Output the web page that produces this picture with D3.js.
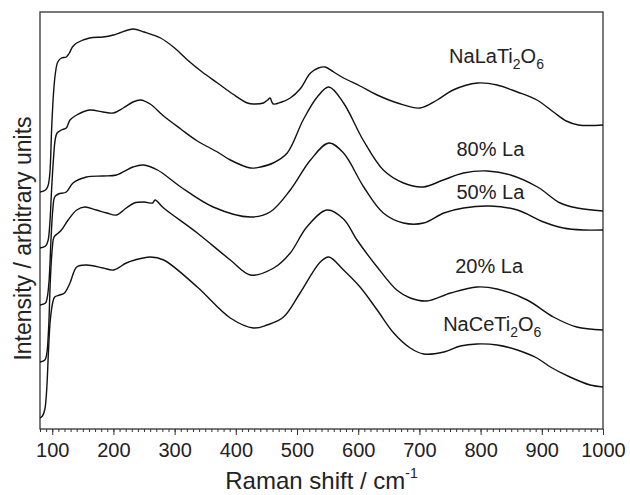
<!DOCTYPE html>
<html>
<head>
<meta charset="utf-8">
<script src="https://cdn.jsdelivr.net/npm/d3@7"></script>
<style>
  body { margin: 0; background: #fff; }
  #chart { width: 630px; height: 495px; }
  text { font-family: "Liberation Sans", Arial, sans-serif; fill: #222; }
</style>
</head>
<body>
<div id="chart"></div>
<script>
// Raman spectra, [shift cm-1, intensity a.u.], stacked top to bottom
const naLaTi2O6 = [[80,237],[89,239],[93,243],[96,255],[99,300],[102,335],[105,355],[109,367],[115,371],[123,372],[128,376],[133,382],[140,386],[161,391],[183,392],[200,394],[210,396],[232,400],[250,397],[277,391],[300,381],[321,369],[345,357],[370,346],[395,335],[419,326],[429,325],[445,326],[452,329],[456,331],[461,325],[475,327],[489,331],[505,340],[522,356],[535,361],[546,362],[560,357],[576,351],[603,343],[631,334],[664,326],[701,321],[729,329],[755,339],[795,346],[827,344],[860,337],[892,329],[919,317],[940,308],[960,304],[1000,304]];
const la80 = [[80,181],[89,183],[93,188],[96,205],[99,240],[102,270],[105,290],[108,296],[115,299],[123,301],[129,309],[140,314],[161,319],[183,317],[200,316],[216,321],[232,327],[244,329],[260,325],[282,313],[310,300],[337,288],[370,277],[391,269],[424,261],[440,262],[461,266],[484,276],[510,309],[533,332],[552,342],[576,326],[608,289],[641,259],[674,246],[706,242],[739,249],[772,256],[811,258],[849,254],[893,242],[930,226],[958,221],[1000,218]];
const la50 = [[80,124],[89,126],[92,132],[95,150],[98,190],[101,220],[104,232],[110,235],[123,237],[134,246],[156,252],[183,253],[205,254],[232,262],[249,264],[272,259],[310,242],[363,222],[424,212],[456,217],[489,239],[522,269],[552,286],[576,276],[609,242],[641,216],[674,206],[707,206],[740,216],[772,221],[816,223],[860,219],[903,207],[935,201],[968,199],[1000,199]];
const la20 = [[80,67],[88,69],[91,75],[94,100],[97,150],[100,180],[103,192],[110,196],[115,199],[126,209],[140,219],[153,222],[172,219],[189,216],[205,214],[221,221],[234,226],[250,227],[264,226],[268,229],[282,221],[337,196],[391,169],[424,154],[462,161],[489,176],[516,202],[549,219],[576,210],[598,189],[631,162],[663,139],[685,131],[712,128],[751,136],[794,142],[827,140],[876,129],[919,112],[957,102],[1000,99]];
const naCeTi2O6 = [[80,11],[84,13],[88,20],[91,40],[94,80],[97,110],[101,127],[104,132],[112,134],[120,136],[129,146],[140,162],[156,164],[183,161],[200,159],[221,166],[235,169],[260,172],[282,169],[337,142],[391,111],[429,101],[451,104],[478,112],[505,136],[538,167],[552,172],[576,159],[603,142],[631,119],[658,96],[685,81],[707,75],[740,77],[767,83],[794,85],[827,84],[860,79],[892,71],[914,62],[946,52],[979,44],[1000,42]];

const spectra = [naLaTi2O6, la80, la50, la20, naCeTi2O6];
// label text parts: [text, isSubscript]
const seriesLabels = [
  [["NaLaTi", false], ["2", true], ["O", false], ["6", true]],
  [["80% La", false]],
  [["50% La", false]],
  [["20% La", false]],
  [["NaCeTi", false], ["2", true], ["O", false], ["6", true]]
];
// label anchors in data units [shift, intensity]
const labelAnchors = [[826,366],[816,273],[816,230],[814,156],[819,98]];

const xTickValues = [100,200,300,400,500,600,700,800,900,1000];
const xMinorValues = d3.range(80, 1001, 10);

function renderSpectra(selector) {
    const margin = {top: 12, right: 27, bottom: 66, left: 40};
    const W = 630, H = 495;
    const width = W - margin.left - margin.right;
    const height = H - margin.top - margin.bottom;

    const svg = d3.select(selector).append("svg")
        .attr("width", W)
        .attr("height", H)
        .append("g")
        .attr("transform", `translate(${margin.left}, ${margin.top})`);

    const x = d3.scaleLinear().domain([80, 1000]).range([0, width]);
    const y = d3.scaleLinear().domain([0, 417]).range([height, 0]);

    // minor ticks
    svg.append("g")
        .attr("transform", `translate(0, ${height})`)
        .call(d3.axisBottom(x).tickValues(xMinorValues).tickSize(3).tickFormat(""))
        .call(g => g.select(".domain").remove())
        .selectAll("line").attr("stroke", "#333");

    const xAxis = svg.append("g")
        .attr("transform", `translate(0, ${height})`)
        .call(d3.axisBottom(x).tickValues(xTickValues).tickSize(6).tickPadding(8).tickFormat(d3.format("d")));
    xAxis.select(".domain").remove();
    xAxis.selectAll("line").attr("stroke", "#333");
    xAxis.selectAll("text")
        .style("font-size", "20px")
        .style("font-family", "'Liberation Sans', Arial, sans-serif")
        .attr("fill", "#222");

    // frame
    svg.append("rect")
        .attr("width", width)
        .attr("height", height)
        .attr("fill", "none")
        .attr("stroke", "#333")
        .attr("stroke-width", 1.3);

    const line = d3.line()
        .x(d => x(d[0]))
        .y(d => y(d[1]))
        .curve(d3.curveCatmullRom.alpha(0.5));

    svg.selectAll(".spectrum")
        .data(spectra)
        .enter()
        .append("path")
        .attr("class", "spectrum")
        .attr("d", line)
        .attr("fill", "none")
        .attr("stroke", "#111")
        .attr("stroke-width", 1.4);

    const labels = svg.selectAll(".series-label")
        .data(seriesLabels)
        .enter()
        .append("text")
        .attr("class", "series-label")
        .attr("x", (d, i) => x(labelAnchors[i][0]))
        .attr("y", (d, i) => y(labelAnchors[i][1]))
        .attr("text-anchor", "middle")
        .style("font-size", "20px");

    labels.each(function(parts) {
        const t = d3.select(this);
        let shifted = false;
        parts.forEach(([s, sub]) => {
            const ts = t.append("tspan").text(s);
            if (sub && !shifted) { ts.attr("dy", 6).style("font-size", "14px"); shifted = true; }
            else if (sub) { ts.style("font-size", "14px"); }
            else if (shifted) { ts.attr("dy", -6); shifted = false; }
        });
    });

    // axis titles
    const xTitle = svg.append("text")
        .attr("x", width / 2)
        .attr("y", height + 60)
        .attr("text-anchor", "middle")
        .style("font-size", "24px")
        .text("Raman shift / cm");
    xTitle.append("tspan")
        .attr("dy", -11)
        .style("font-size", "14px")
        .text("-1");

    svg.append("text")
        .attr("transform", "rotate(-90)")
        .attr("x", -(height / 2) - 18)
        .attr("y", -9)
        .attr("text-anchor", "middle")
        .style("font-size", "23px")
        .text("Intensity / arbitrary units");
}

renderSpectra("#chart");
</script>
</body>
</html>
